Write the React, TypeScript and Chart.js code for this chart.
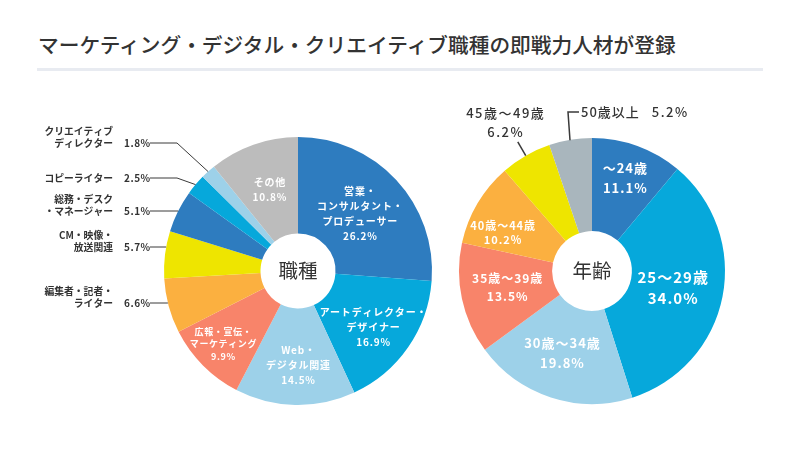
import React, { useEffect, useRef } from 'react';
import { Chart, registerables } from 'chart.js';

Chart.register(...registerables);

// ---------- data ----------
const TITLE = 'マーケティング・デジタル・クリエイティブ職種の即戦力人材が登録';

const jobCenter = '職種';
const jobCategories = [
  '営業・コンサルタント・プロデューサー',
  'アートディレクター・デザイナー',
  'Web・デジタル関連',
  '広報・宣伝・マーケティング',
  '編集者・記者・ライター',
  'CM・映像・放送関連',
  '総務・デスク・マネージャー',
  'コピーライター',
  'クリエイティブディレクター',
  'その他',
];
const jobLabelLines = [
  ['営業・', 'コンサルタント・', 'プロデューサー'],
  ['アートディレクター・', 'デザイナー'],
  ['Web・', 'デジタル関連'],
  ['広報・宣伝・', 'マーケティング'],
  ['編集者・記者・', 'ライター'],
  ['CM・映像・', '放送関連'],
  ['総務・デスク', '・マネージャー'],
  ['コピーライター'],
  ['クリエイティブ', 'ディレクター'],
  ['その他'],
];
const jobValues = [26.2, 16.9, 14.5, 9.9, 6.6, 5.7, 5.1, 2.5, 1.8, 10.8];

const ageCenter = '年齢';
const ageCategories = ['～24歳', '25～29歳', '30歳～34歳', '35歳～39歳', '40歳～44歳', '45歳～49歳', '50歳以上'];
const ageLabelLines = [['～24歳'], ['25～29歳'], ['30歳～34歳'], ['35歳～39歳'], ['40歳～44歳'], ['45歳～49歳'], ['50歳以上']];
const ageValues = [11.1, 34.0, 19.8, 13.5, 10.2, 6.2, 5.2];

// ---------- styles ----------
const BLUE = '#2e7cbf';
const CYAN = '#06a8db';
const LIGHT = '#9dd1e9';
const SALMON = '#f8846a';
const ORANGE = '#fbb040';
const YELLOW = '#eee500';
const jobColors = [BLUE, CYAN, LIGHT, SALMON, ORANGE, YELLOW, BLUE, CYAN, LIGHT, '#bcbcbc'];
const ageColors = [BLUE, CYAN, LIGHT, SALMON, ORANGE, YELLOW, '#a9b6bd'];

const FONT = "'Noto Sans CJK JP', 'Noto Sans', sans-serif";
const DARK = '#333333';

type LabelStyle =
  | { kind: 'in'; f: number; d: number; size: number; lh: number; sp: number }
  | { kind: 'left'; dy: number; mode: 'elbow' | 'h' }
  | { kind: 'topLeft'; dx: number; dy: number }
  | { kind: 'topRight'; dx: number; dy: number };

const jobStyles: LabelStyle[] = [
  { kind: 'in', f: 0.63, d: 0, size: 10, lh: 15, sp: 0.8 },
  { kind: 'in', f: 0.7, d: 2, size: 10, lh: 15, sp: 0.8 },
  { kind: 'in', f: 0.7, d: -1.3, size: 10, lh: 15, sp: 0.8 },
  { kind: 'in', f: 0.78, d: 0.6, size: 9, lh: 12.5, sp: 0.6 },
  { kind: 'left', dy: 32, mode: 'h' },
  { kind: 'left', dy: -24, mode: 'h' },
  { kind: 'left', dy: -60, mode: 'h' },
  { kind: 'left', dy: -93, mode: 'elbow' },
  { kind: 'left', dy: -128, mode: 'elbow' },
  { kind: 'in', f: 0.64, d: 0, size: 10, lh: 15, sp: 0.8 },
];

const ageStyles: LabelStyle[] = [
  { kind: 'in', f: 0.74, d: -0.5, size: 13, lh: 20, sp: 1 },
  { kind: 'in', f: 0.62, d: 0.7, size: 15, lh: 21, sp: 1 },
  { kind: 'in', f: 0.66, d: 2, size: 13, lh: 20, sp: 1 },
  { kind: 'in', f: 0.65, d: 0.8, size: 12, lh: 18, sp: 1 },
  { kind: 'in', f: 0.73, d: -7.6, size: 11, lh: 14, sp: 1 },
  { kind: 'topLeft', dx: -87, dy: -158 },
  { kind: 'topRight', dx: -24, dy: -159 },
];

function pct(v: number) {
  return v.toFixed(1) + '%';
}

function drawText(
  ctx: CanvasRenderingContext2D,
  text: string,
  x: number,
  y: number,
  font: string,
  color: string,
  align: CanvasTextAlign,
  spacing = 0
) {
  ctx.save();
  ctx.font = font;
  ctx.fillStyle = color;
  ctx.textAlign = align;
  ctx.textBaseline = 'middle';
  (ctx as any).letterSpacing = spacing + 'px';
  let xx = x;
  if (spacing && align === 'center') xx = x + spacing / 2;
  if (spacing && align === 'right') xx = x + spacing;
  ctx.fillText(text, xx, y);
  ctx.restore();
}

function makeLabelPlugin(center: string, lines: string[][], values: number[], styles: LabelStyle[]) {
  return {
    id: 'sliceLabels',
    afterDraw(chart: any) {
      const ctx: CanvasRenderingContext2D = chart.ctx;
      const arcs = chart.getDatasetMeta(0).data as any[];
      if (!arcs.length) return;
      const cx = arcs[0].x;
      const cy = arcs[0].y;
      const R = arcs[0].outerRadius;

      drawText(ctx, center, cx, cy, `400 19.5px ${FONT}`, DARK, 'center', 0);

      arcs.forEach((arc, i) => {
        const st = styles[i];
        const mid = (arc.startAngle + arc.endAngle) / 2;
        const textLines = [...lines[i], pct(values[i])];
        ctx.save();
        ctx.strokeStyle = '#3a3a3a';
        ctx.lineWidth = 1;
        if (st.kind === 'in') {
          const a = mid + (st.d * Math.PI) / 180;
          const x = cx + Math.cos(a) * R * st.f;
          const y = cy + Math.sin(a) * R * st.f;
          const top = y - ((textLines.length - 1) * st.lh) / 2;
          textLines.forEach((t, k) => {
            drawText(ctx, t, x, top + k * st.lh, `700 ${st.size}px ${FONT}`, '#ffffff', 'center', st.sp);
          });
        } else if (st.kind === 'left') {
          const ly = cy + st.dy;
          const lineStart = cx - 148;
          ctx.beginPath();
          if (st.mode === 'h') {
            const ex = cx - Math.sqrt(Math.max(R * R - st.dy * st.dy, 0));
            ctx.moveTo(ex, ly);
          } else {
            const ex = cx + Math.cos(mid) * R;
            const ey = cy + Math.sin(mid) * R;
            ctx.moveTo(ex, ey);
            ctx.lineTo(cx - 121, ly);
          }
          ctx.lineTo(lineStart, ly);
          ctx.stroke();
          drawText(ctx, pct(values[i]), cx - 174, ly, `700 10px ${FONT}`, DARK, 'left', 0.5);
          const names = lines[i];
          names.forEach((t, k) => {
            const yy = ly - (names.length - 1 - k) * 11.5;
            drawText(ctx, t, cx - 185, yy, `700 9.8px ${FONT}`, DARK, 'right', 0);
          });
        } else if (st.kind === 'topLeft') {
          const ex = cx + Math.cos(mid) * R;
          const ey = cy + Math.sin(mid) * R;
          const ox = cx + Math.cos(mid) * (R + 16);
          const oy = cy + Math.sin(mid) * (R + 16);
          ctx.beginPath();
          ctx.lineWidth = 1.5;
          ctx.moveTo(ex, ey);
          ctx.lineTo(ox, oy);
          ctx.stroke();
          const tx = cx + st.dx;
          const ty = cy + st.dy;
          drawText(ctx, lines[i][0], tx, ty, `500 13px ${FONT}`, DARK, 'center', 1.5);
          drawText(ctx, pct(values[i]), tx, ty + 19, `500 13px ${FONT}`, DARK, 'center', 1.5);
        } else if (st.kind === 'topRight') {
          const vx = cx + st.dx;
          const ey = cy - Math.sqrt(Math.max(R * R - st.dx * st.dx, 0));
          const ty = cy + st.dy;
          ctx.beginPath();
          ctx.lineWidth = 1.5;
          ctx.moveTo(vx + 2, ey);
          ctx.lineTo(vx, ty);
          ctx.lineTo(vx + 11, ty);
          ctx.stroke();
          const font = `500 13px ${FONT}`;
          const tx = vx + 13;
          drawText(ctx, lines[i][0], tx, ty, font, DARK, 'left', 1);
          ctx.font = font;
          (ctx as any).letterSpacing = '1px';
          const w = ctx.measureText(lines[i][0]).width;
          (ctx as any).letterSpacing = '0px';
          drawText(ctx, pct(values[i]), tx + w + 12, ty, font, DARK, 'left', 1.5);
        }
        ctx.restore();
      });
    },
  };
}

function makeConfig(
  categories: string[],
  values: number[],
  colors: string[],
  cutout: string,
  padding: { left: number; top: number; right: number; bottom: number },
  plugin: any
): any {
  return {
    type: 'doughnut',
    data: {
      labels: categories,
      datasets: [
        {
          data: values,
          backgroundColor: colors,
          borderWidth: 0,
          hoverOffset: 0,
        },
      ],
    },
    options: {
      responsive: false,
      animation: false,
      cutout,
      layout: { padding },
      plugins: {
        legend: { display: false },
        tooltip: { enabled: false },
      },
      events: [],
    },
    plugins: [plugin],
  };
}

export default function App() {
  const leftRef = useRef<HTMLCanvasElement>(null);
  const rightRef = useRef<HTMLCanvasElement>(null);

  useEffect(() => {
    const c1 = new Chart(
      leftRef.current as HTMLCanvasElement,
      makeConfig(
        jobCategories,
        jobValues,
        jobColors,
        '28%',
        { left: 164, top: 137, right: 368, bottom: 44 },
        makeLabelPlugin(jobCenter, jobLabelLines, jobValues, jobStyles)
      )
    );
    const c2 = new Chart(
      rightRef.current as HTMLCanvasElement,
      makeConfig(
        ageCategories,
        ageValues,
        ageColors,
        '30%',
        { left: 459, top: 138, right: 75, bottom: 45 },
        makeLabelPlugin(ageCenter, ageLabelLines, ageValues, ageStyles)
      )
    );
    return () => {
      c1.destroy();
      c2.destroy();
    };
  }, []);

  return (
    <div style={{ position: 'absolute', left: 0, top: 0, width: 800, height: 449, background: '#ffffff', overflow: 'hidden' }}>
      <div
        style={{
          position: 'absolute',
          left: 38,
          top: 33,
          fontFamily: FONT,
          fontSize: 20.7,
          fontWeight: 500,
          lineHeight: '22px',
          color: DARK,
          whiteSpace: 'nowrap',
        }}
      >
        {TITLE}
      </div>
      <div style={{ position: 'absolute', left: 37, top: 68, width: 726, height: 3, background: '#e8ebf1' }} />
      <canvas ref={leftRef} width={800} height={449} style={{ position: 'absolute', left: 0, top: 0, display: 'block' }} />
      <canvas ref={rightRef} width={800} height={449} style={{ position: 'absolute', left: 0, top: 0, display: 'block' }} />
    </div>
  );
}
